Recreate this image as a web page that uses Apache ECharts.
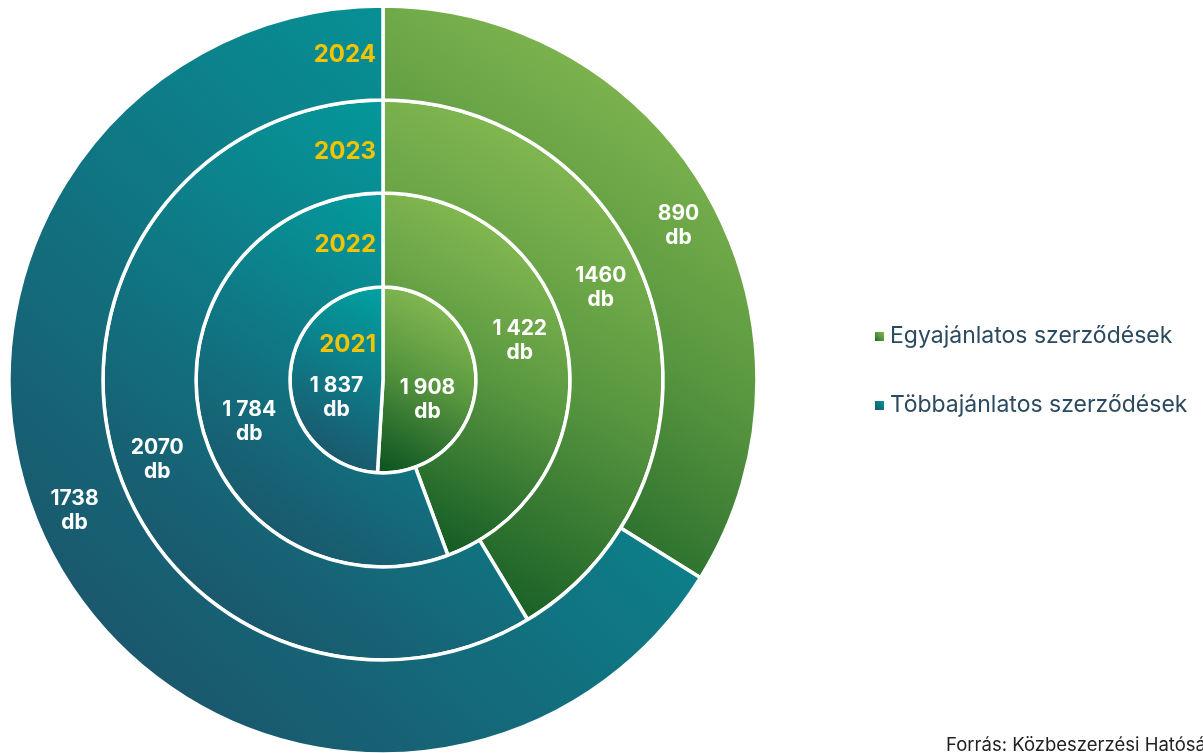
<!DOCTYPE html>
<html>
<head>
<meta charset="utf-8">
<script src="https://cdn.jsdelivr.net/npm/echarts@6/dist/echarts.min.js"></script>
<style>html,body{margin:0;padding:0;background:#fff;}#c{width:1203px;height:753px;}</style>
</head>
<body>
<div id="c"></div>
<script>
const years = ['2021', '2022', '2023', '2024'];
const categories = ['Egyajánlatos szerződések', 'Többajánlatos szerződések'];
const egyajanlatos = [1908, 1422, 1460, 890];
const tobbajanlatos = [1837, 1784, 2070, 1738];
const valueLabels = [['1 908', '1 837'], ['1 422', '1 784'], ['1460', '2070'], ['890', '1738']];

// layout constants
const CX = 383, CY = 380;
const radii = [[0, 93], [93, 187], [187, 280], [280, 374]];
const yearInset = [58, 52, 52, 49];
const labelOffsets = [[[-5, 18], [3, 19]], [[-4, -14], [7, 16]], [[-10, -29], [2, 16]], [[7, 6], [-20, -30]]];

const greenGrad = new echarts.graphic.LinearGradient(1, 0, 0, 1, [
  { offset: 0, color: '#95c758' }, { offset: 0.5, color: '#58963f' }, { offset: 1, color: '#075020' }]);
const tealGrad = new echarts.graphic.LinearGradient(1, 0, 0, 1, [
  { offset: 0, color: '#00a3a3' }, { offset: 1, color: '#1f4a63' }]);

const chart = echarts.init(document.getElementById('c'));

const labelBase = {
  show: true,
  position: 'inside',
  color: '#ffffff',
  fontFamily: 'Inter',
  fontWeight: 700,
  fontSize: 21,
  lineHeight: 24
};

const series = years.map((y, i) => ({
  type: 'pie',
  name: y,
  center: [CX, CY],
  radius: radii[i],
  startAngle: 90,
  clockwise: true,
  silent: true,
  animation: false,
  itemStyle: { borderColor: '#ffffff', borderWidth: 3.5 },
  label: Object.assign({}, labelBase, {
    formatter: p => valueLabels[i][p.dataIndex] + '\ndb'
  }),
  labelLine: { show: false },
  emphasis: { disabled: true },
  data: [
    { name: categories[0], value: egyajanlatos[i], itemStyle: { color: greenGrad },
      label: { offset: labelOffsets[i][0] } },
    { name: categories[1], value: tobbajanlatos[i], itemStyle: { color: tealGrad },
      label: { offset: labelOffsets[i][1] } }
  ]
}));

const yearGraphics = years.map((y, i) => ({
  type: 'text',
  x: CX - 7,
  y: CY - (radii[i][1] - yearInset[i]),
  style: {
    text: y,
    fill: '#f5c400',
    font: 'bold 24px Inter',
    align: 'right',
    verticalAlign: 'middle'
  },
  z: 100
}));

chart.setOption({
  backgroundColor: '#ffffff',
  animation: false,
  legend: {
    orient: 'vertical',
    left: 873,
    top: 325,
    padding: 0,
    itemWidth: 11,
    itemHeight: 11,
    itemGap: 46,
    icon: 'rect',
    data: categories,
    selectedMode: false,
    textStyle: { fontFamily: 'Inter', fontSize: 23, color: '#2b4a5f' }
  },
  series: series,
  graphic: yearGraphics.concat([{
    type: 'text',
    left: 946,
    top: 736,
    style: { text: 'Forrás: Közbeszerzési Hatóság', fill: '#222222', font: '18.5px Inter' }
  }])
});
</script>
</body>
</html>
